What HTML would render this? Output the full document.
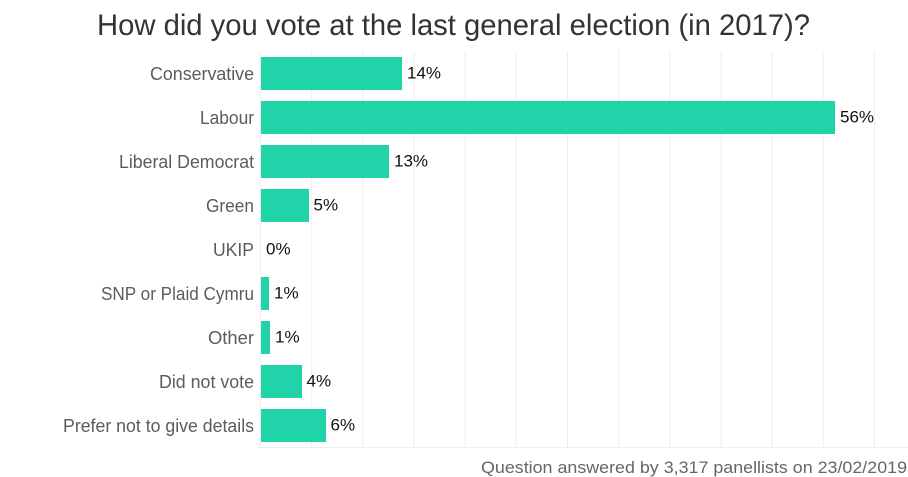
<!DOCTYPE html>
<html>
<head>
<meta charset="utf-8">
<style>
  html, body { margin: 0; padding: 0; background: #fff; }
  body { width: 908px; height: 477px; overflow: hidden; }
  svg { display: block; font-family: "Liberation Sans", sans-serif; }
</style>
</head>
<body>
<svg width="908" height="477" viewBox="0 0 908 477" xmlns="http://www.w3.org/2000/svg">
  <!-- Title -->
  <text x="97" y="35" font-size="30" fill="#333333" textLength="713" lengthAdjust="spacingAndGlyphs">How did you vote at the last general election (in 2017)?</text>

  <!-- gridlines -->
  <g stroke="#eeeeee" stroke-width="1">
    <line x1="260.5" y1="51" x2="260.5" y2="447"/>
    <line x1="311.7" y1="51" x2="311.7" y2="447"/>
    <line x1="362.8" y1="51" x2="362.8" y2="447"/>
    <line x1="414" y1="51" x2="414" y2="447"/>
    <line x1="465.2" y1="51" x2="465.2" y2="447"/>
    <line x1="516.3" y1="51" x2="516.3" y2="447"/>
    <line x1="567.5" y1="51" x2="567.5" y2="447"/>
    <line x1="618.7" y1="51" x2="618.7" y2="447"/>
    <line x1="669.8" y1="51" x2="669.8" y2="447"/>
    <line x1="721" y1="51" x2="721" y2="447"/>
    <line x1="772.2" y1="51" x2="772.2" y2="447"/>
    <line x1="823.3" y1="51" x2="823.3" y2="447"/>
    <line x1="874.5" y1="51" x2="874.5" y2="447"/>
    <line x1="258" y1="447.5" x2="908" y2="447.5"/>
  </g>

  <!-- bars -->
  <g fill="#20d3a8">
    <rect x="261" y="57" width="141" height="33"/>
    <rect x="261" y="101" width="574" height="33"/>
    <rect x="261" y="145" width="128" height="33"/>
    <rect x="261" y="189" width="48" height="33"/>
    <rect x="261" y="277" width="8" height="33"/>
    <rect x="261" y="321" width="9" height="33"/>
    <rect x="261" y="365" width="41" height="33"/>
    <rect x="261" y="409" width="65" height="33"/>
  </g>

  <!-- category labels -->
  <g font-size="18" fill="#5c5c5c" text-anchor="end">
    <text x="254" y="80" textLength="104" lengthAdjust="spacingAndGlyphs">Conservative</text>
    <text x="254" y="124" textLength="54" lengthAdjust="spacingAndGlyphs">Labour</text>
    <text x="254" y="168" textLength="135" lengthAdjust="spacingAndGlyphs">Liberal Democrat</text>
    <text x="254" y="212" textLength="48" lengthAdjust="spacingAndGlyphs">Green</text>
    <text x="254" y="256" textLength="41" lengthAdjust="spacingAndGlyphs">UKIP</text>
    <text x="254" y="300" textLength="153" lengthAdjust="spacingAndGlyphs">SNP or Plaid Cymru</text>
    <text x="254" y="344" textLength="46" lengthAdjust="spacingAndGlyphs">Other</text>
    <text x="254" y="388" textLength="95" lengthAdjust="spacingAndGlyphs">Did not vote</text>
    <text x="254" y="432" textLength="191" lengthAdjust="spacingAndGlyphs">Prefer not to give details</text>
  </g>

  <!-- value labels -->
  <g font-size="17" fill="#111111">
    <text x="407" y="78.5">14%</text>
    <text x="840" y="122.5">56%</text>
    <text x="394" y="166.5">13%</text>
    <text x="313.5" y="210.5">5%</text>
    <text x="266" y="254.5">0%</text>
    <text x="274" y="298.5">1%</text>
    <text x="275" y="342.5">1%</text>
    <text x="306.5" y="386.5">4%</text>
    <text x="330.5" y="430.5">6%</text>
  </g>

  <!-- footer -->
  <text x="481" y="473" font-size="17" fill="#666666" textLength="426" lengthAdjust="spacingAndGlyphs">Question answered by 3,317 panellists on 23/02/2019</text>
</svg>
</body>
</html>
